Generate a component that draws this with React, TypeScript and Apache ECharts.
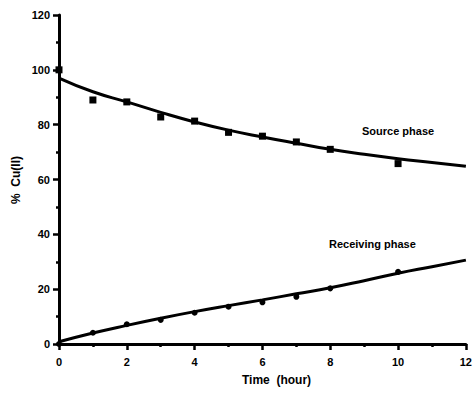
import React, { useEffect, useRef } from "react";
import * as echarts from "echarts";

const hours = [0, 1, 2, 3, 4, 5, 6, 7, 8, 10];
const sourceValues = [100, 89, 88.3, 82.8, 81.3, 77.2, 75.8, 73.7, 71, 65.8];
const receivingValues = [0, 4.1, 7.2, 8.8, 11.4, 13.6, 15.2, 17.2, 20.3, 26.3];

const fitHours = [0, 1, 2, 3, 4, 5, 6, 7, 8, 9, 10, 11, 12];
const sourceFit = [97, 92, 88.3, 84.5, 81, 78, 75.5, 73.2, 71, 69.2, 67.6, 66.2, 64.8];
const receivingFit = [0.8, 4, 6.8, 9.4, 11.8, 14, 16.1, 18.3, 20.5, 23.1, 25.8, 28.2, 30.6];

const yTicks = [0, 20, 40, 60, 80, 100, 120];
const xTicks = [0, 2, 4, 6, 8, 10, 12];

const FONT = "Liberation Sans, Arial, sans-serif";

export default function App() {
  const ref = useRef<HTMLDivElement>(null);
  useEffect(() => {
    if (!ref.current) return;
    document.body.style.margin = "0";
    document.body.style.overflow = "hidden";
    const chart = echarts.init(ref.current, undefined, { renderer: "svg" });
    const axisCommon = {
      axisLine: { show: true, onZero: false, lineStyle: { color: "#000", width: 3 } },
      axisTick: { show: true, inside: false, length: 6, lineStyle: { color: "#000", width: 2.5 } },
      minorTick: { show: true, splitNumber: 2, length: 3, lineStyle: { color: "#000", width: 2.5 } },
      splitLine: { show: false },
      minorSplitLine: { show: false },
      axisLabel: { color: "#000", fontWeight: "bold" as const, fontSize: 11, fontFamily: FONT },
    };
    chart.setOption({
      animation: false,
      backgroundColor: "#fff",
      grid: { left: 59, right: 9, top: 15, bottom: 49, containLabel: false },
      xAxis: {
        type: "value",
        min: xTicks[0],
        max: xTicks[xTicks.length - 1],
        interval: 2,
        ...axisCommon,
        axisLabel: { ...axisCommon.axisLabel, margin: 12 },
      },
      yAxis: {
        type: "value",
        min: yTicks[0],
        max: yTicks[yTicks.length - 1],
        interval: 20,
        ...axisCommon,
        axisLabel: { ...axisCommon.axisLabel, margin: 9 },
      },
      series: [
        {
          type: "line",
          data: fitHours.map((h, i) => [h, sourceFit[i]]),
          smooth: true,
          showSymbol: false,
          lineStyle: { color: "#000", width: 3 },
        },
        {
          type: "line",
          data: fitHours.map((h, i) => [h, receivingFit[i]]),
          smooth: true,
          showSymbol: false,
          lineStyle: { color: "#000", width: 3 },
        },
        {
          type: "scatter",
          data: hours.map((h, i) => [h, sourceValues[i]]),
          symbol: "rect",
          symbolSize: 7,
          itemStyle: { color: "#000", opacity: 1 },
        },
        {
          type: "scatter",
          data: hours.map((h, i) => [h, receivingValues[i]]),
          symbol: "circle",
          symbolSize: 6,
          itemStyle: { color: "#000", opacity: 1 },
        },
      ],
      graphic: [
        {
          type: "text",
          left: 362,
          top: 125,
          style: { text: "Source phase", fill: "#000", font: `bold 11px ${FONT}` },
        },
        {
          type: "text",
          left: 329,
          top: 238,
          style: { text: "Receiving phase", fill: "#000", font: `bold 11px ${FONT}` },
        },
        {
          type: "text",
          left: 242,
          top: 374,
          style: { text: "Time  (hour)", fill: "#000", font: `bold 12px ${FONT}` },
        },
        {
          type: "text",
          x: 16,
          y: 180,
          rotation: Math.PI / 2,
          style: {
            text: "%  Cu(II)",
            fill: "#000",
            font: `bold 12px ${FONT}`,
            align: "center",
            verticalAlign: "middle",
          },
        },
      ],
    });
    return () => chart.dispose();
  }, []);
  return (
    <div
      ref={ref}
      style={{ position: "absolute", left: 0, top: 0, width: 475, height: 393 }}
    />
  );
}
